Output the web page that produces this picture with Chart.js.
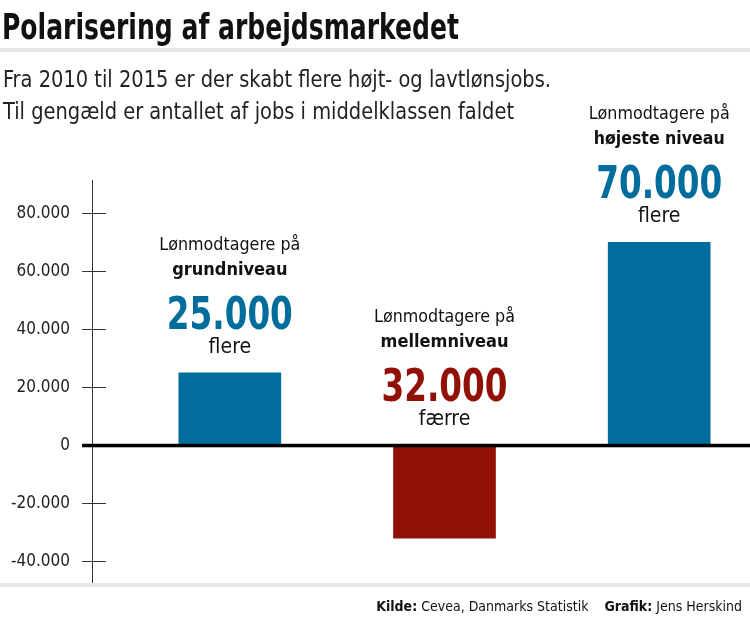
<!DOCTYPE html>
<html>
<head>
<meta charset="utf-8">
<script src="https://cdn.jsdelivr.net/npm/chart.js@4"></script>
<style>
html,body{margin:0;padding:0;background:#fff;}
canvas{display:block;}
</style>
</head>
<body>
<canvas id="c" width="750" height="627"></canvas>
<script>
const categories = ['grundniveau', 'mellemniveau', 'højeste niveau'];
const values = [25000, -32000, 70000];
const numberLabels = ['25.000', '32.000', '70.000'];
const changeWords = ['flere', 'færre', 'flere'];
const barColors = ['#006d9c', '#921106', '#006d9c'];
const yTicks = [-40000, -20000, 0, 20000, 40000, 60000, 80000];

const titleText = 'Polarisering af arbejdsmarkedet';
const subtitleLines = ['Fra 2010 til 2015 er der skabt flere højt- og lavtlønsjobs.',
  'Til gengæld er antallet af jobs i middelklassen faldet'];
const sourceLabel = 'Kilde:';
const sourceText = ' Cevea, Danmarks Statistik';
const creditLabel = 'Grafik:';
const creditText = ' Jens Herskind';

const COND = '"Liberation Sans Narrow", "DejaVu Sans Condensed", "Roboto", sans-serif';

function fmt(v) {
  const s = String(Math.abs(v)).replace(/\B(?=(\d{3})+(?!\d))/g, '.');
  return (v < 0 ? '-' : '') + s;
}

const decor = {
  id: 'decor',
  afterDraw(chart) {
    const ctx = chart.ctx;
    const y = chart.scales.y;
    const x = chart.scales.x;
    const area = chart.chartArea;
    ctx.save();
    // title
    ctx.fillStyle = '#111';
    ctx.textBaseline = 'alphabetic';
    ctx.textAlign = 'left';
    ctx.font = 'bold 35px ' + COND;
    ctx.fillText(titleText, 2, 39, 457);
    // rules
    ctx.fillStyle = '#e6e6e6';
    ctx.fillRect(0, 48, 750, 4);
    ctx.fillRect(0, 583, 750, 4);
    // subtitle
    ctx.fillStyle = '#222';
    ctx.font = '23px ' + COND;
    ctx.fillText(subtitleLines[0], 3, 87, 548);
    ctx.fillText(subtitleLines[1], 3, 119, 511);
    // axis line
    ctx.strokeStyle = '#333';
    ctx.lineWidth = 1;
    ctx.beginPath();
    ctx.moveTo(area.left + 0.5, area.top);
    ctx.lineTo(area.left + 0.5, area.bottom);
    ctx.stroke();
    // tick marks
    yTicks.forEach(v => {
      if (v === 0) return;
      const py = Math.round(y.getPixelForValue(v)) + 0.5;
      ctx.beginPath();
      ctx.moveTo(area.left - 10, py);
      ctx.lineTo(area.left + 14, py);
      ctx.stroke();
    });
    // zero line
    const z = y.getPixelForValue(0);
    ctx.fillStyle = '#000';
    ctx.fillRect(area.left - 10, z - 1.5, 750 - (area.left - 10), 3.5);
    // annotations
    ctx.textAlign = 'center';
    values.forEach((v, i) => {
      const cx = x.getPixelForValue(i);
      const anchor = y.getPixelForValue(Math.max(v, 0));
      ctx.fillStyle = '#111';
      ctx.font = '18px ' + COND;
      ctx.fillText('Lønmodtagere på', cx, anchor - 123, 141);
      ctx.font = 'bold 18px ' + COND;
      ctx.fillText(categories[i], cx, anchor - 98, 131);
      ctx.fillStyle = barColors[i];
      ctx.font = 'bold 44px ' + COND;
      ctx.fillText(numberLabels[i], cx, anchor - 44, 126);
      ctx.fillStyle = '#111';
      ctx.font = '21px ' + COND;
      ctx.fillText(changeWords[i], cx, anchor - 20);
    });
    // footer
    ctx.textAlign = 'left';
    const fb = 'bold 14px ' + COND, fr = '14px ' + COND;
    ctx.font = fb; const w1 = ctx.measureText(sourceLabel).width; const w3 = ctx.measureText(creditLabel).width;
    ctx.font = fr; const w2 = ctx.measureText(sourceText).width; const w4 = ctx.measureText(creditText).width;
    const gap = 16;
    let fx = 742 - (w1 + w2 + gap + w3 + w4);
    const fy = 611;
    ctx.fillStyle = '#111';
    ctx.font = fb; ctx.fillText(sourceLabel, fx, fy); fx += w1;
    ctx.font = fr; ctx.fillText(sourceText, fx, fy); fx += w2 + gap;
    ctx.font = fb; ctx.fillText(creditLabel, fx, fy); fx += w3;
    ctx.font = fr; ctx.fillText(creditText, fx, fy);
    ctx.restore();
  }
};

new Chart(document.getElementById('c'), {
  type: 'bar',
  data: {
    datasets: [{
      data: values.map((v, i) => ({ x: i, y: v })),
      backgroundColor: barColors,
      borderWidth: 0,
      barThickness: 102
    }]
  },
  options: {
    responsive: false,
    animation: false,
    events: [],
    layout: { padding: { top: 180, bottom: 44, left: 0, right: 0 } },
    plugins: { legend: { display: false }, tooltip: { enabled: false }, title: { display: false } },
    scales: {
      x: {
        type: 'linear',
        offset: false,
        min: -0.642,
        max: 2.423,
        display: false,
        grid: { offset: false }
      },
      y: {
        min: -47500,
        max: 91500,
        afterBuildTicks: s => { s.ticks = yTicks.map(v => ({ value: v })); },
        afterFit: s => { s.width = 92; },
        grid: { display: false, drawTicks: false },
        border: { display: false },
        ticks: {
          padding: 22,
          color: '#222',
          font: { family: COND, size: 17 },
          callback: v => fmt(v)
        }
      }
    }
  },
  plugins: [decor]
});
</script>
</body>
</html>
